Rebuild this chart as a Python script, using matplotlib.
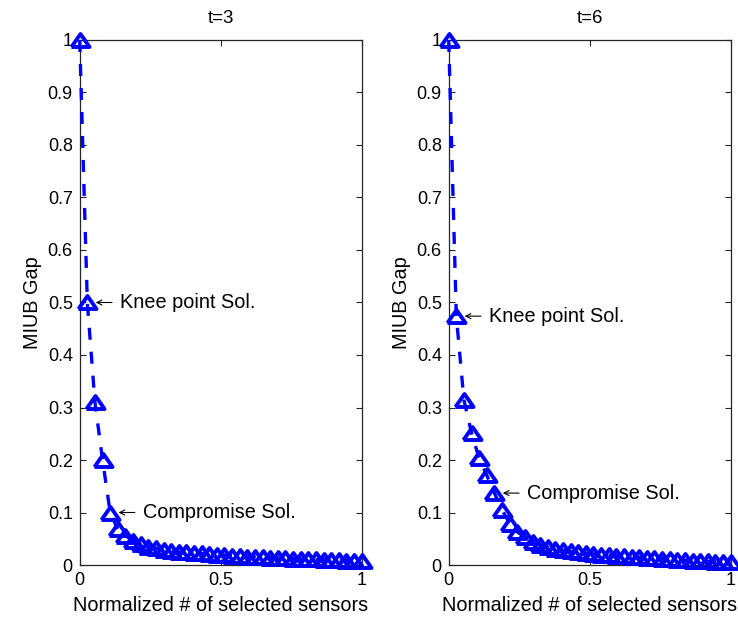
import matplotlib
matplotlib.use("Agg")
import matplotlib.pyplot as plt
import numpy as np

plt.rcParams['font.family'] = ['Liberation Sans', 'DejaVu Sans']

# Normalized number of selected sensors (38 solutions on the Pareto front)
n_points = 38
sensors_frac = [i / (n_points - 1) for i in range(n_points)]

# MIUB gap for t=3
gap_t3 = [1.0, 0.50, 0.31, 0.20, 0.10, 0.068, 0.056, 0.046, 0.040, 0.035,
          0.032, 0.029, 0.027, 0.025, 0.024, 0.023, 0.022, 0.021, 0.020, 0.019,
          0.018, 0.017, 0.016, 0.0155, 0.015, 0.014, 0.0135, 0.013, 0.012, 0.0115,
          0.011, 0.0105, 0.010, 0.0095, 0.009, 0.0085, 0.008, 0.008]

# MIUB gap for t=6
gap_t6 = [1.0, 0.474, 0.314, 0.251, 0.203, 0.171, 0.137, 0.105, 0.079, 0.063,
          0.053, 0.044, 0.038, 0.034, 0.030, 0.028, 0.026, 0.024, 0.023, 0.021,
          0.020, 0.019, 0.018, 0.017, 0.016, 0.015, 0.014, 0.013, 0.012, 0.011,
          0.010, 0.009, 0.0085, 0.008, 0.007, 0.006, 0.0055, 0.005]

panels = [
    ("t=3", gap_t3, 1, 4),   # title, data, knee index, compromise index
    ("t=6", gap_t6, 1, 6),
]

y_ticks = [i / 10 for i in range(11)]
y_ticklabels = ["0", "0.1", "0.2", "0.3", "0.4", "0.5", "0.6", "0.7", "0.8", "0.9", "1"]
x_ticks = [0, 0.5, 1]
x_ticklabels = ["0", "0.5", "1"]

tri = [(-1, -0.72), (1, -0.72), (0, 0.72), (-1, -0.72)]

fig = plt.figure(figsize=(7.38, 6.2), dpi=100)
lefts = [0.108, 0.608]
width = 0.382
bottom, top = 0.0887, 0.9355

for (title, gap, knee, comp), left in zip(panels, lefts):
    ax = fig.add_axes([left, bottom, width, top - bottom])
    ax.plot(sensors_frac, gap, color=(0, 0, 1), lw=2.4,
            linestyle=(0, (3.6, 3.6)), marker=tri, markersize=13,
            markerfacecolor='none', markeredgecolor=(0, 0, 1),
            markeredgewidth=2.8, clip_on=False, zorder=3)
    ax.set_xlim(0, 1)
    ax.set_ylim(0, 1)
    ax.set_xticks(x_ticks)
    ax.set_xticklabels(x_ticklabels)
    ax.set_yticks(y_ticks)
    ax.set_yticklabels(y_ticklabels)
    ax.tick_params(direction='in', length=4, width=0.8, labelsize=13,
                   top=True, right=True, pad=5, colors='#262626', labelcolor='black')
    for s in ax.spines.values():
        s.set_color('#262626')
        s.set_linewidth(0.9)
    ax.set_title(title, fontsize=13.5, pad=12)
    ax.set_xlabel("Normalized # of selected sensors", fontsize=14.3, labelpad=5)
    ax.set_ylabel("MIUB Gap", fontsize=14.3, labelpad=4)

    for idx, label in ((knee, "Knee point Sol."), (comp, "Compromise Sol.")):
        ax.annotate(label, xy=(sensors_frac[idx], gap[idx]), xytext=(33, 0),
                    textcoords='offset pixels', va='center', ha='left', fontsize=14.3,
                    arrowprops=dict(arrowstyle='->', color='black', lw=0.8,
                                    shrinkA=4, shrinkB=6, mutation_scale=9),
                    zorder=4)

fig.savefig("out.png", dpi=100)
